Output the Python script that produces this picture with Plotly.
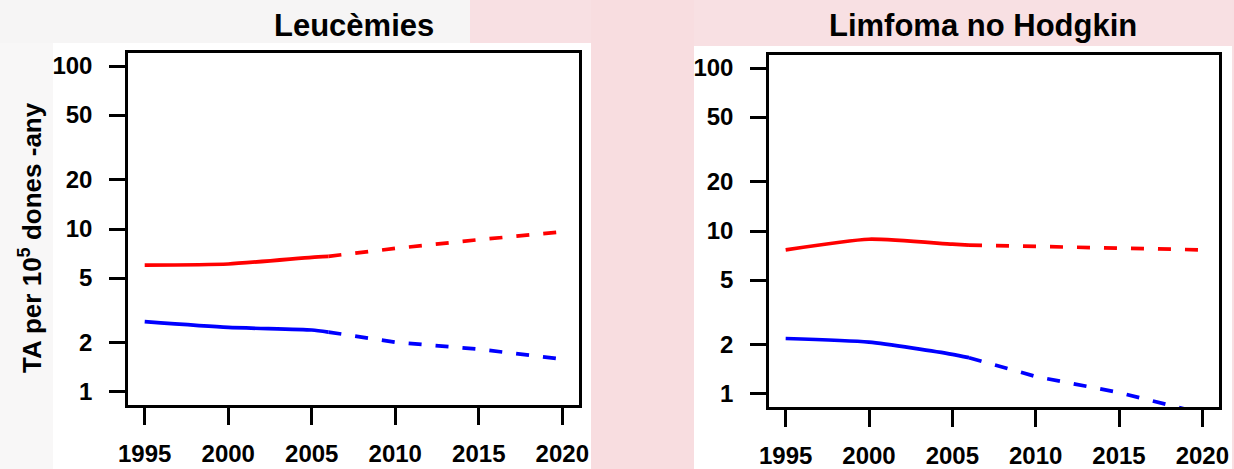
import plotly.graph_objects as go

W, H = 1234, 469

# ---- data ----
years_obs = [1995, 2000, 2005, 2006]
years_proj = [2006, 2010, 2015, 2020]

leuc_red_obs = [6.0, 6.1, 6.7, 6.8]
leuc_red_proj = [6.8, 7.6, 8.6, 9.6]
leuc_blue_obs = [2.70, 2.49, 2.40, 2.33]
leuc_blue_proj = [2.33, 2.02, 1.83, 1.59]

lnh_red_obs = [7.66, 8.9, 8.3, 8.2]
lnh_red_proj = [8.2, 8.0, 7.85, 7.66]
lnh_blue_obs = [2.19, 2.08, 1.75, 1.67]
lnh_blue_proj = [1.67, 1.28, 1.02, 0.76]

x_ticks = [1995, 2000, 2005, 2010, 2015, 2020]
y_ticks = [1, 2, 5, 10, 20, 50, 100]
titles = ["Leucèmies", "Limfoma no Hodgkin"]
y_title = "TA per 10<sup>5</sup> dones -any"

RED = "#ff0000"
BLUE = "#0000ff"
FONT = "Liberation Sans"

def px_x(p):
    return p / W

def px_y(p):
    return 1 - p / H

fig = go.Figure()

panels = [
    ("x", "y", leuc_red_obs, leuc_red_proj, leuc_blue_obs, leuc_blue_proj),
    ("x2", "y2", lnh_red_obs, lnh_red_proj, lnh_blue_obs, lnh_blue_proj),
]
for xa, ya, ro, rp, bo, bp in panels:
    for yo, yp, c in [(ro, rp, RED), (bo, bp, BLUE)]:
        fig.add_trace(go.Scatter(x=years_obs, y=yo, mode="lines", xaxis=xa, yaxis=ya,
                                 line=dict(color=c, width=3.7, shape="spline", smoothing=0.6),
                                 showlegend=False, hoverinfo="skip"))
        fig.add_trace(go.Scatter(x=years_proj, y=yp, mode="lines", xaxis=xa, yaxis=ya,
                                 line=dict(color=c, width=3.7, dash="13px,14px"),
                                 showlegend=False, hoverinfo="skip", cliponaxis=True))

xcommon = dict(range=[1994, 2021], tickvals=x_ticks, ticktext=[str(v) for v in x_ticks],
               ticks="outside", ticklen=17, tickwidth=2.5, tickcolor="black",
               showline=True, linecolor="black", linewidth=2.5, mirror=True,
               showgrid=False, zeroline=False, automargin=False,
               ticklabelstandoff=8,
               tickfont=dict(family=FONT, size=24, color="black", weight="bold"))
ycommon = dict(type="log", range=[-0.08, 2.08], tickvals=y_ticks,
               ticktext=[str(v) for v in y_ticks],
               ticks="outside", ticklen=16, tickwidth=2.5, tickcolor="black",
               showline=True, linecolor="black", linewidth=2.5, mirror=True,
               showgrid=False, zeroline=False, automargin=False,
               ticklabelstandoff=12,
               tickfont=dict(family=FONT, size=24, color="black", weight="bold"))

fig.update_layout(
    width=W, height=H, margin=dict(l=0, r=0, t=0, b=0),
    template="none",
    paper_bgcolor="white", plot_bgcolor="white",
    xaxis=dict(domain=[px_x(128), px_x(579)], anchor="y", **xcommon),
    yaxis=dict(domain=[px_y(405), px_y(53)], anchor="x", **ycommon),
    xaxis2=dict(domain=[px_x(769), px_x(1219)], anchor="y2", **xcommon),
    yaxis2=dict(domain=[px_y(407), px_y(55)], anchor="x2", **ycommon),
)

# background (faded slide pattern + white panels)
shapes = [
    dict(x0=0, x1=470, y0=0, y1=43, fill="#f6f5f5"),
    dict(x0=0, x1=53, y0=43, y1=469, fill="#f8f7f7"),
    dict(x0=470, x1=1234, y0=0, y1=46, fill="#f8e0e3"),
    dict(x0=591, x1=694, y0=0, y1=469, fill="#f8dde0"),
    dict(x0=1232, x1=1234, y0=0, y1=469, fill="#f8dfe2"),
    dict(x0=53, x1=591, y0=43, y1=469, fill="white"),
    dict(x0=694, x1=1232, y0=46, y1=469, fill="white"),
]
for s in shapes:
    fig.add_shape(type="rect", xref="paper", yref="paper", layer="below",
                  x0=px_x(s["x0"]), x1=px_x(s["x1"]), y0=px_y(s["y1"]), y1=px_y(s["y0"]),
                  fillcolor=s["fill"], line=dict(width=0))

# titles
for t, cx in zip(titles, [354, 983]):
    fig.add_annotation(text=t, x=px_x(cx), y=px_y(25), xref="paper", yref="paper",
                       showarrow=False, xanchor="center", yanchor="middle",
                       font=dict(family=FONT, size=31, color="black", weight="bold"))

fig.add_annotation(text=y_title, x=px_x(30), y=px_y(238), xref="paper", yref="paper",
                   showarrow=False, textangle=-90, xanchor="center", yanchor="middle",
                   font=dict(family=FONT, size=26, color="black", weight="bold"))

fig.write_html("out.html", config={"displayModeBar": False},
               post_script="document.body.style.margin='0';document.body.style.overflow='hidden';")
